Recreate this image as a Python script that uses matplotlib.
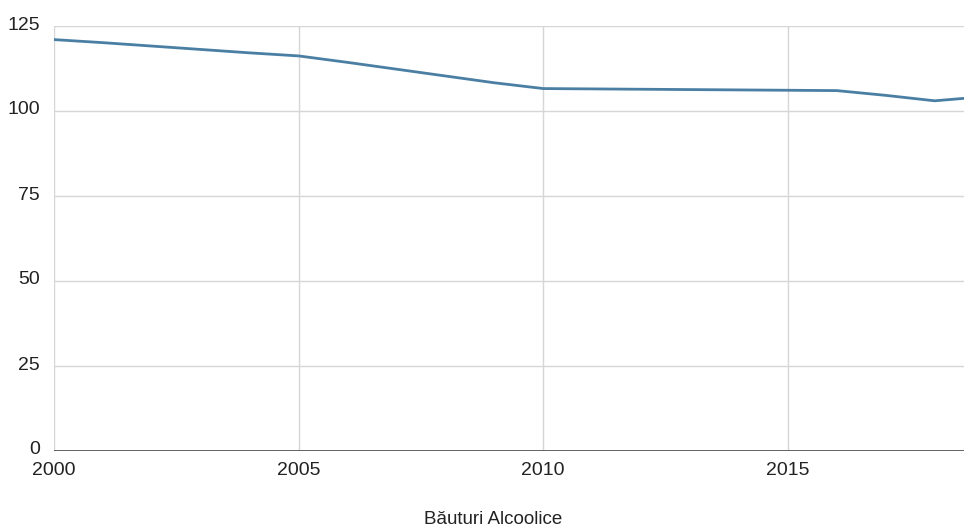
import numpy as np
import matplotlib.pyplot as plt
from matplotlib.transforms import ScaledTranslation

plt.rcParams['font.family'] = ['Liberation Sans', 'DejaVu Sans']

# Yearly values
years = [2000, 2001, 2002, 2003, 2004, 2005, 2006, 2007, 2008, 2009,
         2010, 2011, 2012, 2013, 2014, 2015, 2016, 2017, 2018, 2019]
values = [121.0, 120.1, 119.1, 118.1, 117.1, 116.2, 114.3, 112.3, 110.3, 108.3,
          106.6, 106.5, 106.4, 106.3, 106.2, 106.1, 106.0, 104.6, 103.0, 104.2]

x_ticks = [2000, 2005, 2010, 2015]
y_ticks = [0, 25, 50, 75, 100, 125]

fig = plt.figure(figsize=(9.64, 5.3), dpi=100)
ax = fig.add_axes([54 / 964, 1 - 451 / 530, 1 - 54 / 964 + 0.02, 425 / 530])

ax.plot(years, values, color='#4a7fa3', linewidth=2.0, solid_capstyle='round')

ax.set_xlim(2000, 2018.6 + 0.02 * 964 / 48.9)
ax.set_ylim(0, 125)
ax.set_xticks(x_ticks)
ax.set_yticks(y_ticks)
ax.grid(True, color='#d6d6d6', linewidth=1)
ax.axhline(0, color='#555555', linewidth=2.0, zorder=3)

for s in ax.spines.values():
    s.set_visible(False)
ax.tick_params(length=0, labelsize=14, colors='#222222')
ax.tick_params(axis='x', pad=8)
ax.tick_params(axis='y', pad=10)

# lift the y labels a little, as in the reference
lift = ScaledTranslation(0, 3 / 100, fig.dpi_scale_trans)
for lab in ax.get_yticklabels():
    lab.set_transform(lab.get_transform() + lift)

fig.text(493 / 964, 1 - 519 / 530, 'Băuturi Alcoolice', ha='center', va='center',
         fontsize=13.5, color='#222222')

fig.savefig('out.png', dpi=100)
